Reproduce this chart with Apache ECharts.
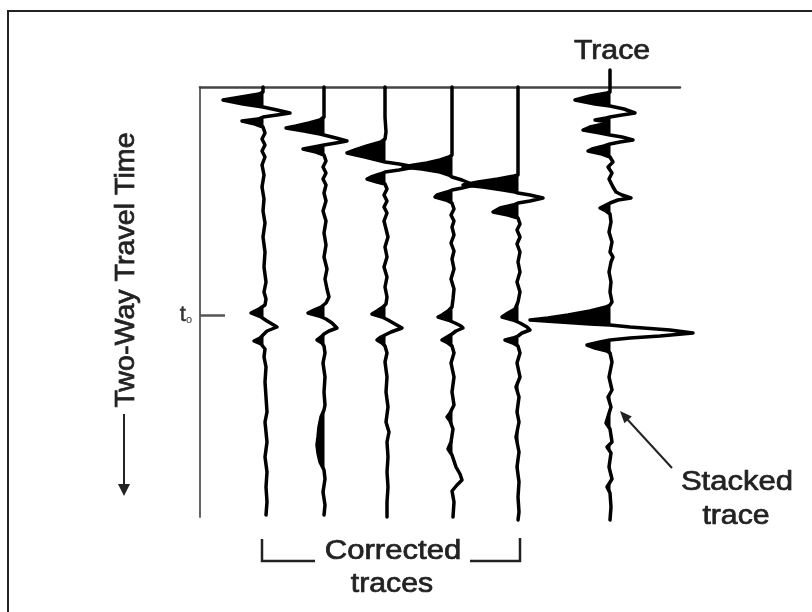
<!DOCTYPE html>
<html>
<head>
<meta charset="utf-8">
<script src="https://cdn.jsdelivr.net/npm/echarts@6/dist/echarts.min.js"></script>
<style>
  html, body { margin: 0; padding: 0; background: #fff; }
  #chart { width: 812px; height: 612px; }
</style>
</head>
<body>
<div id="chart"></div>
<script>
// trace positions along the top axis (px-like units from the time axis)
const traceNames = ['Corrected 1', 'Corrected 2', 'Corrected 3', 'Corrected 4', 'Corrected 5', 'Stacked'];
const traceOffsets = [63, 124, 185, 252, 318, 410];
const t0 = 228;

// each trace: [time, amplitude] pairs, negative amplitude = filled (black) lobe
const trace1 = [[0,0],[5,0],[7,-4],[10,-22],[13,-40],[17,-20],[20,0],[23,14],[26,27],[28,14],[30,0],[32,-5],[34,-21],[37,-8],[40,0],
  [46,2],[52,-1],[58,2],[64,-1],[70,2],[78,-1],[88,1],[100,-1],[112,1],[124,0],[136,2],[150,0],[165,2],[180,1],[195,3],[205,1],[212,3],
  [218,2],[222,-4],[226,-12],[230,-2],[234,4],[240,14],[244,4],[248,0],[251,-3],[254,-9],[257,-2],[262,2],[270,1],[280,3],[295,2],
  [310,3],[325,4],[335,2],[345,3],[355,4],[370,2],[385,4],[400,3],[415,4],[428,3]];
const trace2 = [[0,0],[30,0],[33,-4],[36,-15],[39,-28],[41,-38],[44,-20],[47,-4],[48,0],[51,12],[54,23],[56,12],[58,0],[59,-5],[62,-21],[65,-8],[68,0],
  [74,2],[80,-1],[86,2],[92,-1],[98,2],[106,0],[114,2],[124,-1],[134,2],[146,0],[158,2],[170,0],[182,3],[192,1],[202,3],[210,5],[216,2],
  [220,-3],[223,-10],[226,-16],[229,-5],[232,2],[236,8],[241,13],[244,5],[247,0],[250,-3],[253,-7],[256,-2],[259,0],[266,1],[276,-1],
  [290,1],[305,0],[318,1],[323,0],[330,-3],[340,-5],[350,-6],[358,-7],[366,-6],[375,-4],[383,0],[392,1],[405,-1],[418,1],[428,0]];
const trace3 = [[0,0],[30,0],[45,1],[52,0],[55,-4],[59,-18],[63,-30],[66,-38],[70,-20],[74,-4],[75,0],[77,14],[80,30],[83,14],[85,0],
  [87,-5],[90,-14],[92,-18],[95,-8],[97,0],[102,2],[108,-1],[114,2],[120,-1],[126,2],[134,-1],[142,1],[150,3],[160,0],[170,2],[180,-1],
  [190,2],[200,0],[210,2],[217,1],[220,-2],[224,-8],[227,-13],[230,-3],[233,3],[237,10],[241,17],[245,6],[248,0],[250,-4],[253,-8],
  [256,-3],[259,0],[266,2],[275,0],[290,2],[305,1],[320,3],[335,1],[345,4],[355,2],[370,3],[385,2],[400,3],[415,2],[430,2]];
const trace4 = [[0,0],[60,0],[68,0],[70,-3],[73,-12],[76,-25],[78,-38],[80,-49],[82,-30],[85,-12],[88,-3],[90,0],[93,10],[98,22],[101,10],
  [103,0],[105,-5],[108,-15],[110,-17],[113,-6],[116,0],[122,2],[128,-1],[134,2],[140,0],[148,2],[156,-1],[164,2],[172,0],[182,2],
  [192,-1],[202,2],[212,1],[220,0],[224,-4],[228,-10],[230,-14],[233,-4],[236,3],[239,9],[241,11],[244,4],[247,0],[250,-5],[253,-10],
  [256,-4],[259,0],[266,2],[276,-1],[290,2],[305,0],[318,2],[326,-2],[330,-5],[334,-2],[342,1],[355,-1],[362,-4],[368,0],[380,4],
  [387,8],[393,10],[398,5],[404,0],[415,2],[430,1]];
const trace5 = [[0,0],[80,0],[88,0],[89,-4],[92,-20],[95,-40],[98,-55],[100,-35],[103,-15],[105,-3],[106,0],[108,12],[111,25],[114,12],
  [116,0],[118,-5],[121,-18],[125,-25],[128,-10],[131,0],[137,2],[143,-1],[150,2],[157,-1],[165,2],[175,0],[185,2],[195,-1],[205,2],
  [215,0],[222,-3],[226,-10],[230,-16],[233,-5],[236,2],[240,9],[243,12],[246,4],[249,0],[251,-5],[253,-13],[256,-5],[259,0],[266,2],
  [276,-1],[290,2],[300,-2],[310,1],[325,-1],[335,1],[350,-2],[365,1],[380,-1],[395,1],[410,0],[425,1],[433,0]];
const stacked = [[-17,0],[5,0],[6,-3],[9,-20],[13,-35],[17,-15],[19,0],[22,14],[26,25],[28,12],[30,0],[31,-4],[33,-15],[35,-2],
  [37,-6],[40,-20],[43,-27],[46,-10],[48,0],[50,12],[53,23],[55,10],[57,0],[59,-6],[62,-18],[64,-22],[67,-8],[70,0],[75,3],[80,-2],
  [86,2],[92,-1],[100,3],[105,6],[108,12],[111,21],[113,8],[116,0],[119,-6],[121,-10],[124,-4],[127,0],[135,1],[145,-1],[155,2],
  [165,0],[170,3],[175,1],[185,-1],[195,1],[205,0],[215,2],[218,0],[220,-4],[224,-20],[228,-42],[231,-62],[233,-80],[235,-50],
  [237,-20],[238,0],[240,20],[243,60],[246,83],[249,50],[251,20],[253,0],[255,-10],[258,-23],[261,-15],[264,-3],[266,0],[275,2],
  [290,-1],[303,2],[310,-2],[320,1],[336,-4],[342,0],[355,2],[360,-3],[366,1],[380,-1],[392,2],[400,-3],[406,0],[420,1],[433,0]];
const traces = [trace1, trace2, trace3, trace4, trace5, stacked];

// split a trace into its negative (black) lobes, closing each on the baseline
function lobes(pts) {
  const polys = [];
  let cur = null;
  for (let i = 0; i < pts.length; i++) {
    const [t, a] = pts[i];
    if (a < 0) {
      if (!cur) {
        const prev = pts[i - 1] || [t, 0];
        const tc = prev[1] === a ? t : prev[0] + (t - prev[0]) * (prev[1] / (prev[1] - a));
        cur = [[tc, 0]];
      }
      cur.push([t, a]);
    } else if (cur) {
      const prev = pts[i - 1];
      const tc = prev[0] + (t - prev[0]) * (prev[1] / (prev[1] - a));
      cur.push([tc, 0]);
      polys.push(cur);
      cur = null;
    }
  }
  return polys;
}

function renderTrace(params, api) {
  const off = traceOffsets[params.dataIndex];
  const pts = traces[params.dataIndex];
  const toPx = p => api.coord([off + p[1], p[0]]);
  const children = lobes(pts).map(poly => ({
    type: 'polygon',
    shape: { points: poly.map(toPx) },
    style: { fill: '#000', stroke: '#000', lineWidth: 1 }
  }));
  children.push({
    type: 'polyline',
    shape: { points: pts.map(toPx) },
    style: { stroke: '#000', lineWidth: 3.5, fill: null, lineJoin: 'round', lineCap: 'round' }
  });
  return { type: 'group', children };
}

function arrowHead(tip, tail, len, half) {
  const dx = tip[0] - tail[0], dy = tip[1] - tail[1];
  const d = Math.hypot(dx, dy);
  const ux = dx / d, uy = dy / d;
  const bx = tip[0] - ux * len, by = tip[1] - uy * len;
  return [tip, [bx - uy * half, by + ux * half], [bx + uy * half, by - ux * half]];
}

const labelFont = '27px "Liberation Sans", Arial, sans-serif';
const ink = '#222';
// slightly heavier strokes, the scanned labels look bolder than a plain regular face
const txt = (text, x, y, sx, extra) => Object.assign({
  type: 'text', x, y, scaleX: sx,
  style: { text, font: labelFont, fill: ink, stroke: ink, lineWidth: 0.7, align: 'center', verticalAlign: 'middle' }
}, extra || {});

const chart = echarts.init(document.getElementById('chart'));
chart.setOption({
  animation: false,
  backgroundColor: '#fff',
  grid: { left: 200, right: 132, top: 87, bottom: 95 },
  xAxis: {
    type: 'value', min: 0, max: 480, position: 'top',
    axisLine: { show: true, onZero: false, lineStyle: { color: '#444', width: 2.5 } },
    axisTick: { show: false }, axisLabel: { show: false }, splitLine: { show: false }
  },
  yAxis: {
    type: 'value', min: 0, max: 430, inverse: true,
    axisLine: { show: true, onZero: false, lineStyle: { color: '#666', width: 2 } },
    axisTick: { show: true, inside: true, length: 25, customValues: [t0], lineStyle: { color: '#555', width: 2.5 } },
    axisLabel: {
      show: true, customValues: [t0], margin: 8,
      formatter: () => '{t|t}{s|o}',
      rich: {
        t: { fontSize: 22, color: '#333', fontFamily: 'Liberation Sans', textBorderColor: '#333', textBorderWidth: 0.5 },
        s: { fontSize: 11, color: '#333', fontFamily: 'Liberation Sans', padding: [10, 0, 0, 0] }
      }
    },
    splitLine: { show: false }
  },
  series: [{
    type: 'custom',
    name: 'traces',
    renderItem: renderTrace,
    data: traceOffsets.map(o => [o, 0]),
    clip: false,
    silent: true
  }],
  graphic: [
    { type: 'rect', shape: { x: 8, y: 11, width: 830, height: 640 }, style: { fill: null, stroke: '#222', lineWidth: 2 }, silent: true },
    txt('Trace', 612, 52, 1.12),
    txt('Two-Way Travel Time', 127, 270, 1.06, { rotation: Math.PI / 2 }),
    { type: 'line', shape: { x1: 124, y1: 414, x2: 124, y2: 486 }, style: { stroke: ink, lineWidth: 2 } },
    { type: 'polygon', shape: { points: arrowHead([124, 496], [124, 414], 12, 6) }, style: { fill: ink } },
    txt('Corrected', 393, 552, 1.15),
    txt('traces', 392, 585, 1.12),
    { type: 'polyline', shape: { points: [[262, 539], [262, 561], [315, 561]] }, style: { stroke: ink, lineWidth: 2.5, fill: null } },
    { type: 'polyline', shape: { points: [[470, 561], [520, 561], [520, 538]] }, style: { stroke: ink, lineWidth: 2.5, fill: null } },
    txt('Stacked', 737, 483, 1.15),
    txt('trace', 736, 517, 1.12),
    { type: 'line', shape: { x1: 672, y1: 468, x2: 627, y2: 419 }, style: { stroke: ink, lineWidth: 2 } },
    { type: 'polygon', shape: { points: arrowHead([620, 411], [672, 468], 12, 5) }, style: { fill: ink } }
  ]
});
</script>
</body>
</html>
